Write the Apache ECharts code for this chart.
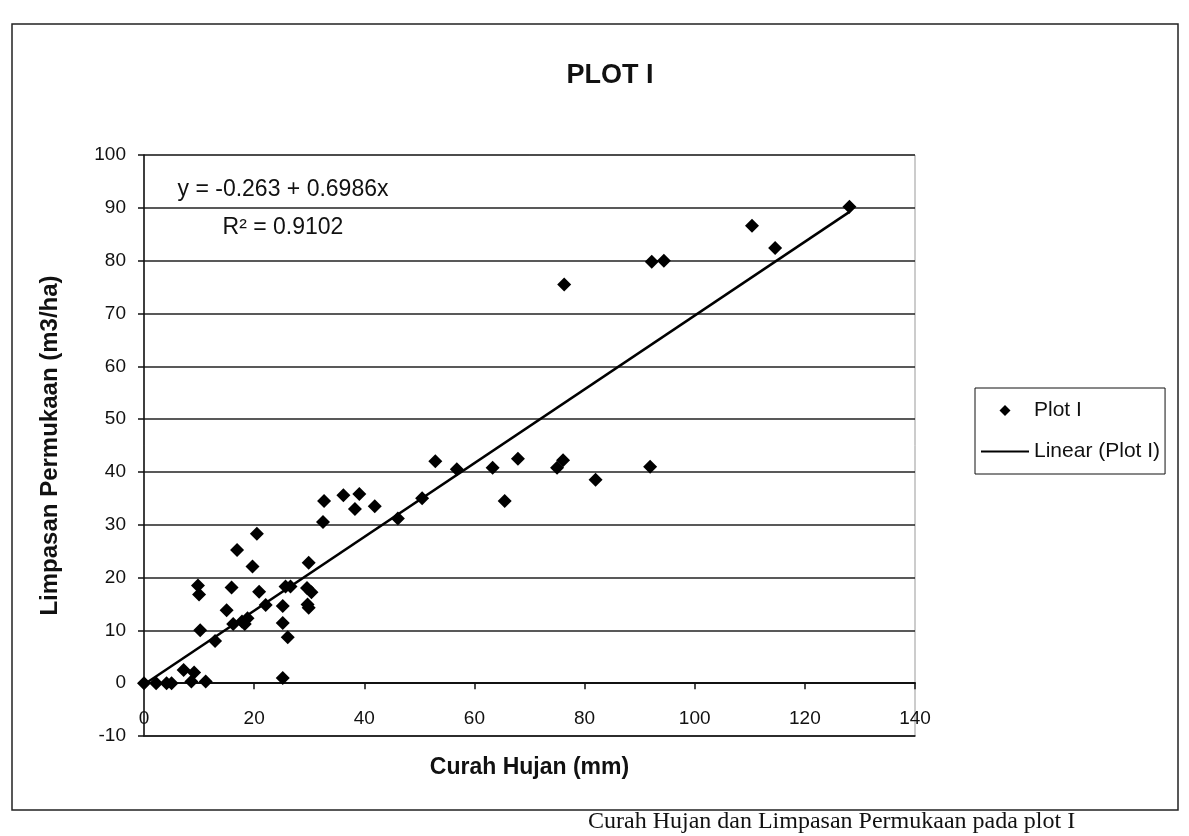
<!DOCTYPE html>
<html>
<head>
<meta charset="utf-8">
<script src="https://cdn.jsdelivr.net/npm/echarts@6/dist/echarts.min.js"></script>
<style>
html,body{margin:0;padding:0;background:#fff;}
#chart{width:1189px;height:836px;}
</style>
</head>
<body>
<div id="chart"></div>
<script>
// Data (Curah Hujan mm vs Limpasan Permukaan m3/ha)
const rainfall = [0, 2.2, 4.1, 5.0, 7.2, 9.1, 8.6, 11.2, 10.2, 9.8, 10.0, 12.9, 15.0, 15.9, 16.2, 16.9, 17.8, 18.3, 18.8, 19.7, 20.5, 20.9, 22.1, 25.2, 25.2, 26.1, 25.2, 25.7, 26.6, 29.6, 30.4, 29.7, 29.9, 29.9, 32.5, 32.7, 36.2, 38.3, 39.1, 41.9, 46.1, 50.5, 52.9, 56.8, 63.3, 65.5, 67.9, 75.0, 76.1, 76.3, 82.0, 91.9, 92.2, 94.4, 110.4, 114.6, 128.1];
const runoff   = [0, 0, 0, 0, 2.5, 2.0, 0.3, 0.3, 10.0, 18.5, 16.8, 8.0, 13.8, 18.1, 11.2, 25.2, 11.7, 11.2, 12.3, 22.1, 28.3, 17.3, 14.8, 14.6, 11.4, 8.7, 1.0, 18.3, 18.3, 18.0, 17.2, 14.9, 14.3, 22.8, 30.5, 34.5, 35.6, 33.0, 35.8, 33.5, 31.2, 35.0, 42.0, 40.5, 40.8, 34.5, 42.5, 40.8, 42.2, 75.5, 38.5, 41.0, 79.8, 80.0, 86.6, 82.4, 90.2];
const trendIntercept = -0.263;
const trendSlope = 0.6986;
const rSquared = '0.9102';
const xTicks = {min: 0, max: 140, interval: 20};
const yTicks = {min: -10, max: 100, interval: 10};
const titleText = 'PLOT I';
const xTitle = 'Curah Hujan (mm)';
const yTitle = 'Limpasan Permukaan (m3/ha)';
const seriesName = 'Plot I';
const trendName = 'Linear (Plot I)';
const caption = 'Curah Hujan dan Limpasan Permukaan pada plot I';

const points = rainfall.map((x, i) => [x, runoff[i]]);
const xMinData = Math.min(...rainfall), xMaxData = Math.max(...rainfall);
const trendData = [[xMinData, trendIntercept + trendSlope * xMinData], [xMaxData, trendIntercept + trendSlope * xMaxData]];

const FONT = '"Liberation Sans", Arial, sans-serif';
const chart = echarts.init(document.getElementById('chart'));
chart.setOption({
  backgroundColor: '#fff',
  animation: false,
  grid: {left: 144, right: 274, top: 155, bottom: 100, show: true, borderColor: '#999', borderWidth: 1, backgroundColor: '#fff'},
  xAxis: [{
    type: 'value', min: xTicks.min, max: xTicks.max, interval: xTicks.interval,
    position: 'bottom',
    axisLine: {onZero: false, lineStyle: {color: '#222', width: 1.5}},
    axisTick: {show: false},
    splitLine: {show: false},
    axisLabel: {inside: true, margin: 8, color: '#111', fontFamily: FONT, fontSize: 19},
    name: xTitle, nameLocation: 'middle', nameGap: 20,
    nameTextStyle: {fontFamily: FONT, fontWeight: 'bold', fontSize: 23, color: '#111', verticalAlign: 'top'}
  }, {
    type: 'value', min: xTicks.min, max: xTicks.max, interval: xTicks.interval,
    position: 'bottom',
    axisLine: {onZero: true, lineStyle: {color: '#111', width: 2}},
    axisTick: {show: true, length: 6, lineStyle: {color: '#111', width: 1.5}},
    axisLabel: {show: false},
    splitLine: {show: false}
  }],
  yAxis: {
    type: 'value', min: yTicks.min, max: yTicks.max, interval: yTicks.interval,
    axisLine: {show: true, onZero: false, lineStyle: {color: '#111', width: 1.5}},
    axisTick: {show: true, length: 6, lineStyle: {color: '#111', width: 1.5}},
    splitLine: {show: true, lineStyle: {color: '#222', width: 1.5}},
    axisLabel: {color: '#111', fontFamily: FONT, fontSize: 19, margin: 18},
    name: yTitle, nameLocation: 'middle', nameGap: 82,
    nameTextStyle: {fontFamily: FONT, fontWeight: 'bold', fontSize: 24, color: '#111'}
  },
  legend: {
    orient: 'vertical', left: 975, top: 388,
    borderColor: '#111', borderWidth: 1, padding: [12, 5, 12, 6],
    itemWidth: 48, itemHeight: 11, itemGap: 20, symbolKeepAspect: true,
    textStyle: {fontFamily: FONT, fontSize: 21, color: '#111'},
    data: [
      {name: seriesName, icon: 'path://M0,-1 L1,0 L0,1 L-1,0 Z'},
      {name: trendName, icon: 'path://M0,0 L24,0 L24,1 L0,1 Z'}
    ]
  },
  series: [{
    name: seriesName, type: 'scatter', xAxisIndex: 0, data: points,
    symbol: 'diamond', symbolSize: 14, itemStyle: {color: '#000', opacity: 1}
  }, {
    name: trendName, type: 'line', xAxisIndex: 0, data: trendData,
    symbol: 'none', lineStyle: {color: '#000', width: 2.5}, itemStyle: {color: '#000'}
  }],
  graphic: [
    {type: 'rect', shape: {x: 12, y: 24, width: 1166, height: 786}, style: {fill: 'none', stroke: '#222', lineWidth: 1.5}, silent: true},
    {type: 'text', x: 610, y: 76, style: {text: titleText, font: 'bold 27px "Liberation Sans", Arial, sans-serif', fill: '#111', textAlign: 'center', textVerticalAlign: 'middle'}},
    {type: 'text', x: 283, y: 190, style: {text: 'y = ' + trendIntercept + ' + ' + trendSlope + 'x', font: '23px "Liberation Sans", Arial, sans-serif', fill: '#111', textAlign: 'center', textVerticalAlign: 'middle'}},
    {type: 'text', x: 283, y: 228, style: {text: 'R² = ' + rSquared, font: '23px "Liberation Sans", Arial, sans-serif', fill: '#111', textAlign: 'center', textVerticalAlign: 'middle'}},
    {type: 'text', x: 588, y: 810, style: {text: caption, font: '24px "Liberation Serif", "Times New Roman", serif', fill: '#111', textAlign: 'left', textVerticalAlign: 'top'}}
  ]
});
</script>
</body>
</html>
